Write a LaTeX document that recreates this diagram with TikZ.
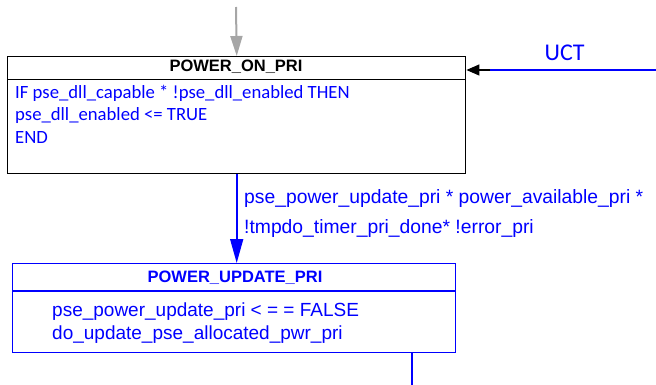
\documentclass[tikz,border=0pt]{standalone}
\usepackage{fontspec}
\setmainfont{Liberation Sans}
\newfontfamily\calibfont{Carlito}
\usetikzlibrary{arrows.meta, positioning}

\tikzset{
  statebox/.style={draw, line width=1.4pt, anchor=north west, inner sep=0pt},
  statetitle/.style={anchor=base, inner sep=0pt, font=\fontsize{16.5}{20}\selectfont\bfseries},
  bodytext/.style={anchor=base west, inner sep=0pt, align=left},
}

\begin{document}
\begin{tikzpicture}[x=1pt, y=-1pt]
    \useasboundingbox (0,0) rectangle (656,385);

    \node[statebox, minimum width=458pt, minimum height=117pt] (on) at (7,56) {};
    \node[statebox, draw=blue, minimum width=443pt, minimum height=89pt] (upd) at (12,263) {};

    \coordinate (onSep) at (0,79.5);
    \coordinate (updSep) at (0,291);
    \draw[line width=1.4pt] (on.west |- onSep) -- (on.east |- onSep);
    \draw[blue, line width=1.4pt] (upd.west |- updSep) -- (upd.east |- updSep);

    \node[statetitle] (onTitle) at (236,72) {POWER\_ON\_PRI};
    \node[statetitle, text=blue] (updTitle) at (235,282) {POWER\_UPDATE\_PRI};

    % multi-line nodes: base is the last line
    \node[bodytext, text=blue, font=\calibfont\fontsize{18.7}{22}\selectfont] (onBody) at (15,143)
      {IF pse\_dll\_capable * !pse\_dll\_enabled THEN\\pse\_dll\_enabled <= TRUE\\END};
    \node[bodytext, text=blue, font=\fontsize{19}{23}\selectfont] (updBody) at (52,339)
      {pse\_power\_update\_pri < = = FALSE\\do\_update\_pse\_allocated\_pwr\_pri};

    \coordinate (entry) at (236,7);
    \coordinate (uct) at (656,70);
    \coordinate (uctJoin) at (490,70);
    \coordinate (exit) at (412,385);

    \draw[black!35, line width=2pt, -{Triangle[length=20pt, width=12pt]}] (entry) -- (on.north);
    \draw[blue, line width=1.3pt] (uct) -- node[pos=0.55, above=5pt, font=\calibfont\fontsize{24}{28}\selectfont] (uctLabel) {UCT} (uctJoin);
    \draw[black, line width=1.3pt, -{Triangle[length=13pt, width=11pt]}] (uctJoin) -- (on.east |- uct);
    \draw[blue, line width=1.6pt, -{Triangle[length=24pt, width=13pt]}] (on.south) -- (on.south |- upd.north);
    \draw[blue, line width=1.4pt] (upd.south -| exit) -- (exit);

    \node[bodytext, text=blue, font=\fontsize{19.3}{30}\selectfont] (cond) at (244,233)
      {pse\_power\_update\_pri * power\_available\_pri *\\!tmpdo\_timer\_pri\_done* !error\_pri};
\end{tikzpicture}
\end{document}
